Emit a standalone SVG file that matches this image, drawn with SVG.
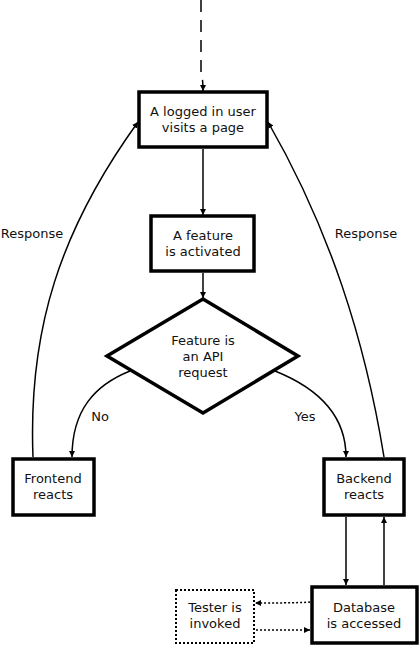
<svg xmlns="http://www.w3.org/2000/svg" width="419" height="647" viewBox="0 0 419 647">
<style>
.n{fill:#fff;stroke:#000;stroke-width:3.5}
.d{fill:#fff;stroke:#000;stroke-width:2;stroke-dasharray:2,2}
.e{fill:none;stroke:#000;stroke-width:1.5}
.t{font-family:"DejaVu Sans",sans-serif;font-size:13px;fill:#111;text-anchor:middle}
</style>
<defs>
<marker id="a" viewBox="0 0 10 10" refX="10" refY="5" markerWidth="6" markerHeight="6" markerUnits="userSpaceOnUse" orient="auto"><path d="M0,0 L10,5 L0,10 z" fill="#000"/></marker>
</defs>
<g id="connectors">
<path class="e" d="M201,0 L201,72 Q203,78 203,91" stroke-dasharray="12,8" marker-end="url(#a)"/>
<path class="e" d="M203,149 L203,215" marker-end="url(#a)"/>
<path class="e" d="M203,273 L203,298" marker-end="url(#a)"/>
<path class="e" d="M130,371 C95,385 72,410 72,457" marker-end="url(#a)"/>
<path class="e" d="M275,371 C310,385 346,410 346,457" marker-end="url(#a)"/>
<path class="e" d="M33,457 C28,330 60,230 138,122" marker-end="url(#a)"/>
<path class="e" d="M384,457 C365,340 330,230 268,122" marker-end="url(#a)"/>
<path class="e" d="M346,517 L346,585" marker-end="url(#a)"/>
<path class="e" d="M384,585 L384,517" marker-end="url(#a)"/>
<path class="e" d="M310,602 Q300,603 255,603" stroke-dasharray="2,2" marker-end="url(#a)"/>
<path class="e" d="M256,630 L310,630" stroke-dasharray="2,2" marker-end="url(#a)"/>
<text class="t" x="32" y="238">Response</text>
<text class="t" x="366" y="238">Response</text>
<text class="t" x="100" y="421">No</text>
<text class="t" x="305" y="421">Yes</text>
</g>
<g id="visit">
<rect class="n" x="139" y="92" width="128" height="55"/>
<text class="t" x="203" y="116">A logged in user</text>
<text class="t" x="203" y="132">visits a page</text>
</g>
<g id="feature">
<rect class="n" x="151" y="216" width="103" height="55"/>
<text class="t" x="203" y="240">A feature</text>
<text class="t" x="203" y="256">is activated</text>
</g>
<g id="api">
<polygon class="n" points="203,299 298,356 203,413 107,356"/>
<text class="t" x="203" y="345">Feature is</text>
<text class="t" x="203" y="361">an API</text>
<text class="t" x="203" y="377">request</text>
</g>
<g id="frontend">
<rect class="n" x="13" y="459" width="81" height="56"/>
<text class="t" x="53" y="483">Frontend</text>
<text class="t" x="53" y="499">reacts</text>
</g>
<g id="backend">
<rect class="n" x="324" y="459" width="80" height="56"/>
<text class="t" x="364" y="483">Backend</text>
<text class="t" x="364" y="499">reacts</text>
</g>
<g id="database">
<rect class="n" x="312" y="587" width="105" height="56"/>
<text class="t" x="364" y="612">Database</text>
<text class="t" x="364" y="628">is accessed</text>
</g>
<g id="tester">
<rect class="d" x="176" y="590" width="78" height="53"/>
<text class="t" x="215" y="612">Tester is</text>
<text class="t" x="215" y="628">invoked</text>
</g>
</svg>
